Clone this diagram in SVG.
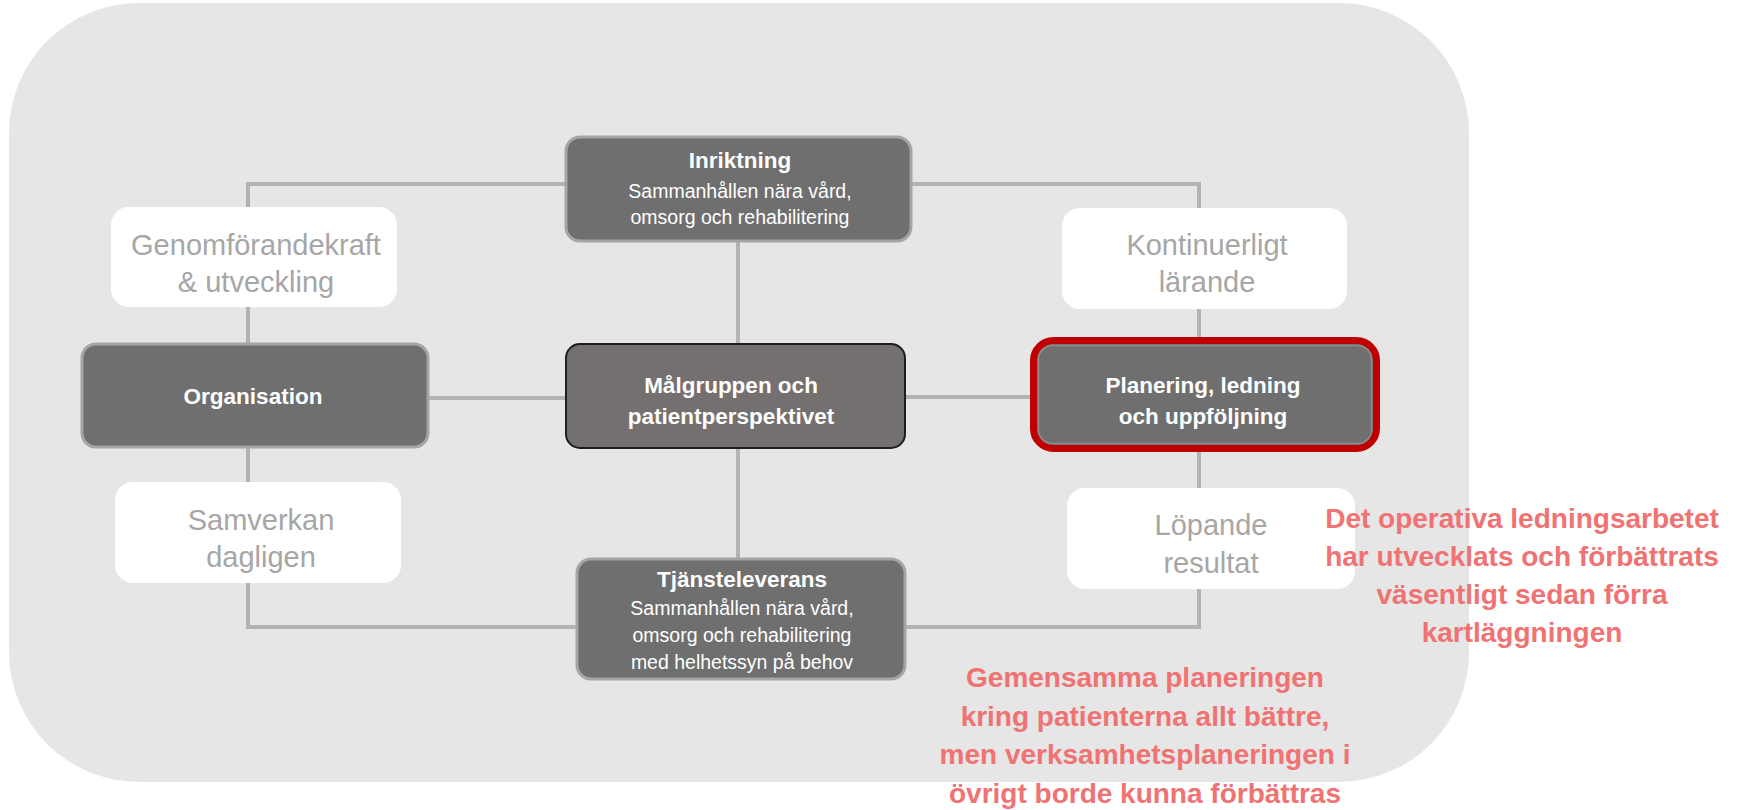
<svg xmlns="http://www.w3.org/2000/svg" width="1737" height="810" viewBox="0 0 1737 810">
<style>
.bg{fill:#e6e6e6}
.dark{fill:#6f6f6f;stroke:#a5a5a5;stroke-width:3}
.white{fill:#ffffff}
.conn{fill:none;stroke:#b3b3b3;stroke-width:4}
text{font-family:"Liberation Sans",Arial,sans-serif;text-anchor:middle}
.tb{font-weight:bold;fill:#ffffff;font-size:22.5px}
.ts{fill:#ffffff;font-size:19.5px}
.tl{fill:#a6a6a6;font-size:29px}
.tr{fill:#f07272;font-weight:bold;font-size:28px}
</style>
<rect class="bg" x="9" y="3" width="1460" height="779" rx="130" ry="130"/>
<g id="connectors">
<polyline class="conn" points="566,184 248,184 248,207"/>
<line class="conn" x1="248" y1="307" x2="248" y2="344"/>
<polyline class="conn" points="911,184 1199,184 1199,208"/>
<line class="conn" x1="1199" y1="309" x2="1199" y2="338"/>
<line class="conn" x1="738" y1="241" x2="738" y2="344"/>
<line class="conn" x1="428" y1="398" x2="566" y2="398"/>
<line class="conn" x1="905" y1="397" x2="1031" y2="397"/>
<line class="conn" x1="248" y1="447" x2="248" y2="482"/>
<polyline class="conn" points="248,583 248,627 577,627"/>
<line class="conn" x1="738" y1="448" x2="738" y2="559"/>
<line class="conn" x1="1199" y1="452" x2="1199" y2="488"/>
<polyline class="conn" points="1199,589 1199,627 905,627"/>
</g>
<g id="inriktning">
<rect class="dark" x="566" y="137" width="345" height="104" rx="14"/>
<text class="tb" x="740" y="168">Inriktning</text>
<text class="ts" x="740" y="198">Sammanhållen nära vård,</text>
<text class="ts" x="740" y="224">omsorg och rehabilitering</text>
</g>
<g id="genomforandekraft">
<rect class="white" x="111" y="207" width="286" height="100" rx="18"/>
<text class="tl" x="256" y="255">Genomförandekraft</text>
<text class="tl" x="256" y="292">&amp; utveckling</text>
</g>
<g id="kontinuerligt">
<rect class="white" x="1062" y="208" width="285" height="101" rx="18"/>
<text class="tl" x="1207" y="255">Kontinuerligt</text>
<text class="tl" x="1207" y="292">lärande</text>
</g>
<g id="organisation">
<rect class="dark" x="82" y="344" width="346" height="103" rx="14"/>
<text class="tb" x="253" y="404">Organisation</text>
</g>
<g id="malgruppen">
<rect x="566" y="344" width="339" height="104" rx="14" fill="#757070" stroke="#1e1e1e" stroke-width="2"/>
<text class="tb" x="731" y="393">Målgruppen och</text>
<text class="tb" x="731" y="424">patientperspektivet</text>
</g>
<g id="planering">
<rect x="1033.5" y="340.5" width="343" height="108" rx="20" fill="#6f6f6f" stroke="#c00000" stroke-width="7"/>
<rect x="1038.5" y="345.5" width="333" height="98" rx="14" fill="none" stroke="#8c8c8c" stroke-width="1.5"/>
<text class="tb" x="1203" y="393">Planering, ledning</text>
<text class="tb" x="1203" y="424">och uppföljning</text>
</g>
<g id="samverkan">
<rect class="white" x="115" y="482" width="286" height="101" rx="18"/>
<text class="tl" x="261" y="530">Samverkan</text>
<text class="tl" x="261" y="567">dagligen</text>
</g>
<g id="lopande">
<rect class="white" x="1067" y="488" width="288" height="101" rx="18"/>
<text class="tl" x="1211" y="535">Löpande</text>
<text class="tl" x="1211" y="573">resultat</text>
</g>
<g id="tjansteleverans">
<rect class="dark" x="577" y="559" width="328" height="120" rx="14"/>
<text class="tb" x="742" y="587">Tjänsteleverans</text>
<text class="ts" x="742" y="615">Sammanhållen nära vård,</text>
<text class="ts" x="742" y="642">omsorg och rehabilitering</text>
<text class="ts" x="742" y="669">med helhetssyn på behov</text>
</g>
<g id="note-right">
<text class="tr" x="1522" y="528">Det operativa ledningsarbetet</text>
<text class="tr" x="1522" y="566">har utvecklats och förbättrats</text>
<text class="tr" x="1522" y="604">väsentligt sedan förra</text>
<text class="tr" x="1522" y="642">kartläggningen</text>
</g>
<g id="note-bottom">
<text class="tr" x="1145" y="687">Gemensamma planeringen</text>
<text class="tr" x="1145" y="726">kring patienterna allt bättre,</text>
<text class="tr" x="1145" y="764">men verksamhetsplaneringen i</text>
<text class="tr" x="1145" y="803">övrigt borde kunna förbättras</text>
</g>
</svg>
